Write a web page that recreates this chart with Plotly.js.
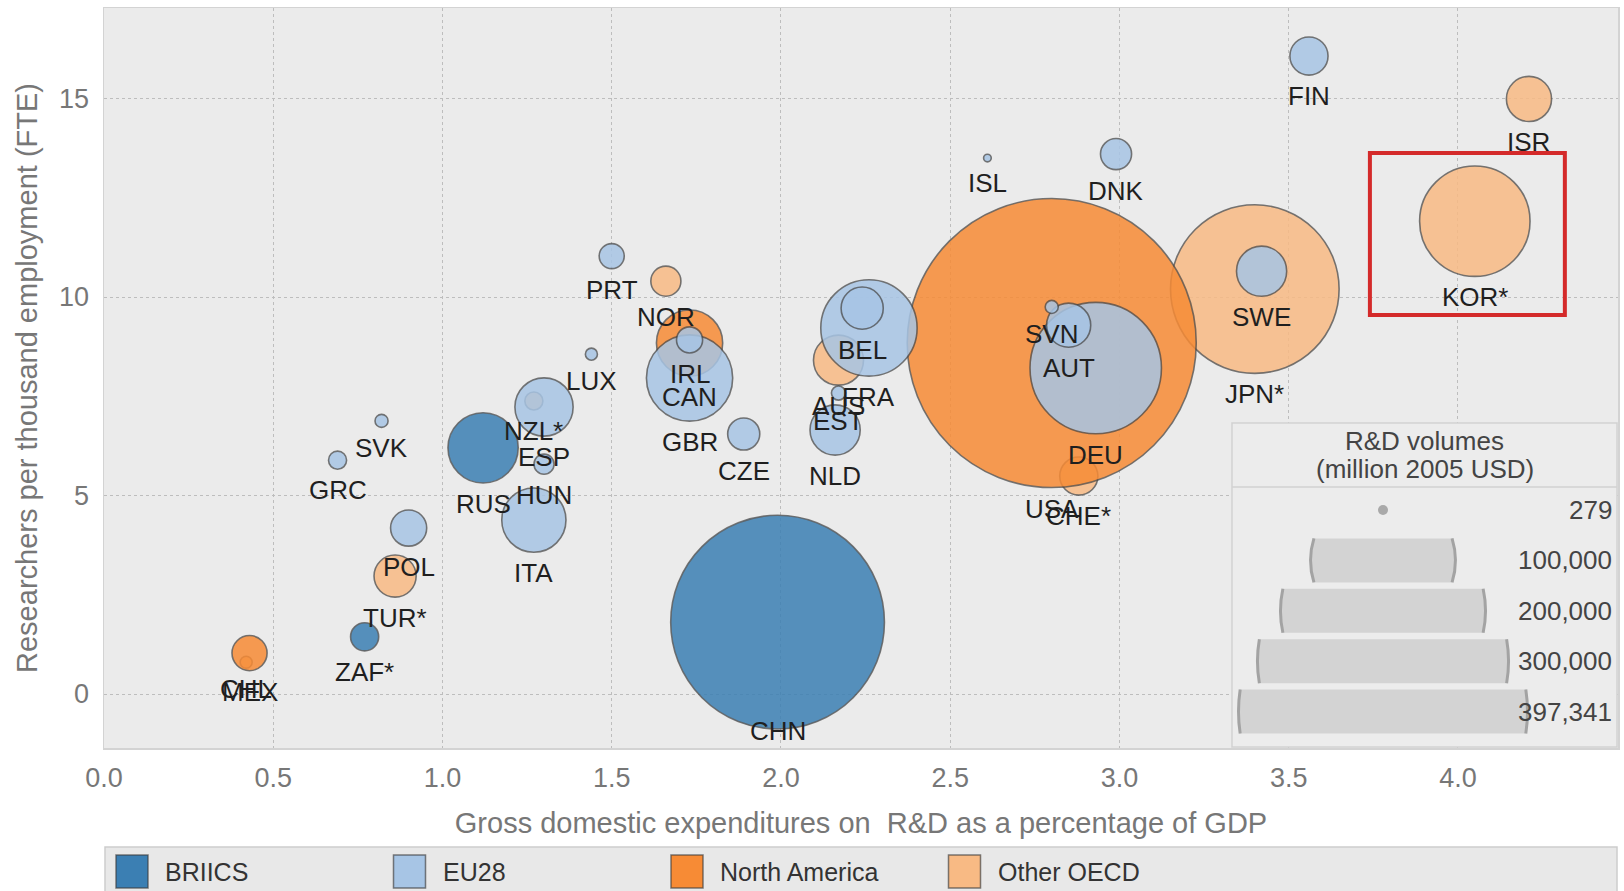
<!DOCTYPE html>
<html><head><meta charset="utf-8">
<script src="https://cdn.plot.ly/plotly-3.0.1.min.js"></script>
<style>html,body{margin:0;padding:0;background:#fff;}#chart{width:1624px;height:891px;}</style>
</head><body><div id="chart"></div>
<script>
// ---------- data ----------
const countries = ['ISL','DNK','FIN','ISR','KOR*','SWE','JPN*','USA','DEU','AUT','SVN','CHE*','BEL','FRA','AUS','EST','NLD','CZE','GBR','CAN','IRL','NOR','PRT','LUX','NZL*','ESP','HUN','RUS','ITA','SVK','GRC','POL','TUR*','ZAF*','MEX','CHL','CHN'];
const groups = ['EU28','EU28','EU28','Other OECD','Other OECD','EU28','Other OECD','North America','EU28','EU28','EU28','Other OECD','EU28','EU28','Other OECD','EU28','EU28','EU28','EU28','North America','EU28','Other OECD','EU28','EU28','Other OECD','EU28','EU28','BRIICS','EU28','EU28','EU28','EU28','Other OECD','BRIICS','North America','Other OECD','BRIICS'];
const gerdPct = [2.61,2.99,3.56,4.21,4.05,3.42,3.40,2.80,2.93,2.85,2.80,2.88,2.24,2.26,2.17,2.17,2.16,1.89,1.73,1.73,1.73,1.66,1.50,1.44,1.27,1.30,1.30,1.12,1.27,0.82,0.69,0.90,0.86,0.77,0.43,0.42,1.99];
const researchers = [13.50,13.60,16.07,14.99,11.91,10.65,10.20,8.84,8.21,9.29,9.75,5.49,9.72,9.22,8.41,7.58,6.65,6.55,7.96,8.84,8.92,10.40,11.03,8.56,7.38,7.23,5.79,6.20,4.38,6.88,5.89,4.18,2.97,1.44,1.03,0.80,1.81];
const rdVolume = [279,4600,6920,9700,58000,11980,135200,397341,82200,9270,810,6920,8450,44150,11900,940,11980,4900,35400,20870,3240,4310,2990,690,1550,16120,1920,23470,19620,810,1550,6210,8450,3760,5870,690,217300];

const groupNames = ['BRIICS','EU28','North America','Other OECD'];
const groupColors = ['#3b7fb3','#a7c5e5','#f78b35','#f8ba84'];
const drawOrder = ['Other OECD','North America','EU28','BRIICS'];

const sizeLegendValues = [279,100000,200000,300000,397341];
const sizeLegendLabels = ['279','100,000','200,000','300,000','397,341'];

const xTickVals = [0,0.5,1,1.5,2,2.5,3,3.5,4];
const xTickText = ['0.0','0.5','1.0','1.5','2.0','2.5','3.0','3.5','4.0'];
const yTickVals = [0,5,10,15];

// ---------- layout geometry ----------
const W = 1624, H = 891;
const M = {l:104, r:6, t:8, b:143};
const PW = W - M.l - M.r, PH = H - M.t - M.b;
const xRange = [0, 4.473], yRange = [-1.36, 17.28];
const FONT = 'Liberation Sans, Arial, sans-serif';

const maxVal = Math.max(...rdVolume);
const maxDiam = 289;
const sizeref = 2 * maxVal / (maxDiam * maxDiam);
const radius = v => Math.sqrt(v / (2 * sizeref));

const xp = X => (X - M.l) / PW;
const yp = Y => (M.t + PH - Y) / PH;

// ---------- traces ----------
const traces = drawOrder.map(g => {
  const idx = countries.map((c,i)=>i).filter(i => groups[i] === g)
                       .sort((a,b) => rdVolume[b] - rdVolume[a]);
  return {
    type:'scatter', mode:'markers', name:g, showlegend:false, hoverinfo:'skip',
    x: idx.map(i=>gerdPct[i]), y: idx.map(i=>researchers[i]),
    marker:{
      size: idx.map(i=>rdVolume[i]), sizemode:'area', sizeref:sizeref,
      color: groupColors[groupNames.indexOf(g)], opacity:0.85,
      line:{color:'rgba(70,70,70,0.85)', width:1.6}
    }
  };
});

// ---------- annotations ----------
const annotations = [];
const pxPerY = PH / (yRange[1] - yRange[0]);
countries.forEach((c,i) => {
  const r = radius(rdVolume[i]);
  const toBottom = (researchers[i] - yRange[0]) * pxPerY;
  const shift = Math.min(r + 21, toBottom - 17);
  annotations.push({
    x: gerdPct[i], y: researchers[i], xref:'x', yref:'y', text:c, showarrow:false,
    yshift: -shift, xanchor:'center', yanchor:'middle',
    font:{family:FONT, size:26, color:'#1f1f1f'}
  });
});

const shapes = [];
// highlight box
shapes.push({type:'rect', xref:'x', yref:'y', x0:3.74, x1:4.316, y0:9.55, y1:13.63,
  line:{color:'#d42a2a', width:4}, fillcolor:'rgba(0,0,0,0)'});

// size legend box
const boxL = 1232, boxR = 1617, boxT = 423, boxB = 747, sepY = 487, bandCx = 1383;
shapes.push({type:'rect', xref:'paper', yref:'paper', x0:xp(boxL), x1:xp(boxR), y0:yp(boxB), y1:yp(boxT),
  fillcolor:'#ececec', line:{color:'#d2d2d2', width:1.5}});
shapes.push({type:'line', xref:'paper', yref:'paper', x0:xp(boxL), x1:xp(boxR), y0:yp(sepY), y1:yp(sepY),
  line:{color:'#d2d2d2', width:1.5}});
annotations.push({xref:'paper', yref:'paper', x:xp(1424), y:yp(441), text:'R&D volumes', showarrow:false,
  xanchor:'center', yanchor:'middle', font:{family:FONT, size:26, color:'#444'}});
annotations.push({xref:'paper', yref:'paper', x:xp(1425), y:yp(469), text:'(million 2005 USD)', showarrow:false,
  xanchor:'center', yanchor:'middle', font:{family:FONT, size:26, color:'#444'}});

sizeLegendValues.forEach((v,i) => {
  const cy = 510 + 50.4 * i;
  const r = radius(v);
  if (i === 0) {
    const rr = Math.max(r, 5);
    shapes.push({type:'circle', xref:'paper', yref:'paper',
      x0:xp(bandCx-rr), x1:xp(bandCx+rr), y0:yp(cy+rr), y1:yp(cy-rr),
      fillcolor:'#a9a9a9', line:{width:0}});
  } else {
    const hh = 22;
    const sag = r - Math.sqrt(Math.max(r*r - hh*hh, 0));
    const L = bandCx - r + sag, R = bandCx + r - sag;
    const T = cy - hh, B = cy + hh;
    const P = (X,Y) => xp(X).toFixed(5) + ',' + yp(Y).toFixed(5);
    const path = 'M' + P(L,T) + ' Q' + P(L-2*sag, cy) + ' ' + P(L,B) +
                 ' L' + P(R,B) + ' Q' + P(R+2*sag, cy) + ' ' + P(R,T) + ' Z';
    shapes.push({type:'path', xref:'paper', yref:'paper', path:path, fillcolor:'#d3d3d3', line:{width:0}});
    shapes.push({type:'path', xref:'paper', yref:'paper',
      path:'M' + P(L,T) + ' Q' + P(L-2*sag, cy) + ' ' + P(L,B), line:{color:'#a3a3a3', width:3}});
    shapes.push({type:'path', xref:'paper', yref:'paper',
      path:'M' + P(R,T) + ' Q' + P(R+2*sag, cy) + ' ' + P(R,B), line:{color:'#a3a3a3', width:3}});
  }
  annotations.push({xref:'paper', yref:'paper', x:xp(1614), y:yp(cy), text:sizeLegendLabels[i], showarrow:false,
    xanchor:'right', yanchor:'middle', font:{family:FONT, size:26, color:'#444'}});
});

// colour legend bar
shapes.push({type:'rect', xref:'paper', yref:'paper', x0:xp(105), x1:xp(1617), y0:yp(895), y1:yp(847),
  fillcolor:'#e8e8e8', line:{color:'#cdcdcd', width:1.5}});
groupNames.forEach((g,i) => {
  const sx = 116 + i * 277.5;
  shapes.push({type:'rect', xref:'paper', yref:'paper', x0:xp(sx), x1:xp(sx+32), y0:yp(888), y1:yp(855),
    fillcolor:groupColors[i], line:{color:'rgba(60,60,60,0.65)', width:1.5}});
  annotations.push({xref:'paper', yref:'paper', x:xp(sx+47), y:yp(872), text:g, showarrow:false,
    xanchor:'left', yanchor:'middle', font:{family:FONT, size:25, color:'#333'}});
});

const layout = {
  width:W, height:H, margin:M, paper_bgcolor:'#ffffff', plot_bgcolor:'#ebebeb',
  font:{family:FONT, color:'#666'}, showlegend:false, hovermode:false,
  xaxis:{range:xRange, tickvals:xTickVals, ticktext:xTickText, ticks:'', ticklabelstandoff:5,
    tickfont:{family:FONT, size:27, color:'#777'},
    showgrid:true, gridcolor:'#bdbdbd', griddash:'dot', gridwidth:1, zeroline:false,
    showline:true, mirror:true, linecolor:'#d3d3d3', linewidth:1.5,
    title:{text:'Gross domestic expenditures on  R&D as a percentage of GDP', standoff:21,
      font:{family:FONT, size:29, color:'#777'}}},
  yaxis:{range:yRange, tickvals:yTickVals, ticks:'', ticklabelstandoff:8,
    tickfont:{family:FONT, size:27, color:'#777'},
    showgrid:true, gridcolor:'#bdbdbd', griddash:'dot', gridwidth:1, zeroline:false,
    showline:true, mirror:true, linecolor:'#d3d3d3', linewidth:1.5,
    title:{text:'Researchers per thousand employment (FTE)', standoff:13,
      font:{family:FONT, size:29, color:'#777'}}},
  shapes:shapes, annotations:annotations
};

Plotly.newPlot('chart', traces, layout, {staticPlot:true, displayModeBar:false});
</script></body></html>
